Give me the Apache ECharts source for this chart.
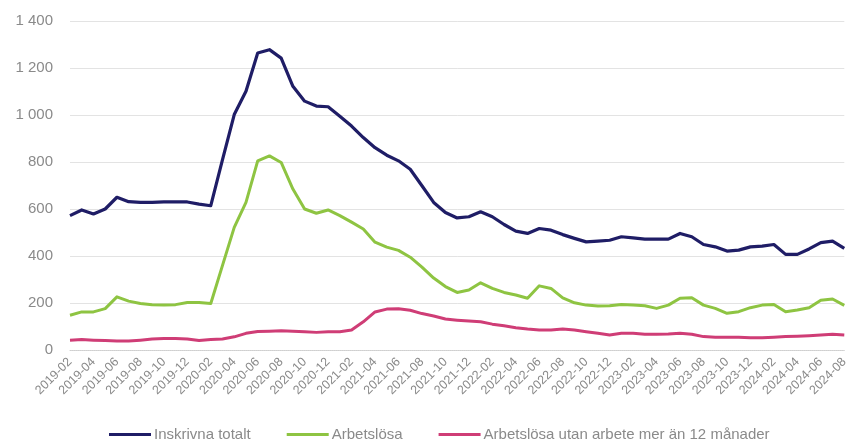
<!DOCTYPE html>
<html>
<head>
<meta charset="utf-8">
<script src="https://cdn.jsdelivr.net/npm/echarts@6/dist/echarts.min.js"></script>
<style>html,body{margin:0;padding:0;background:#fff;}#c{width:851px;height:441px;}</style>
</head>
<body>
<div id="c"></div>
<script>
const months = [];
for (let y = 2019; y <= 2024; y++) {
  for (let m = 1; m <= 12; m++) {
    if (y === 2019 && m < 2) continue;
    if (y === 2024 && m > 8) continue;
    months.push(y + '-' + (m < 10 ? '0' + m : m));
  }
}
const seriesNames = ['Inskrivna totalt', 'Arbetslösa', 'Arbetslösa utan arbete mer än 12 månader'];
const inskrivnaTotalt = [
  572, 596, 579, 600, 650, 631, 628, 628, 630, 630, 630,
  621, 614, 810, 1002, 1101, 1264, 1278, 1242, 1122, 1059, 1038, 1035,
  995, 953, 904, 861, 829, 805, 769, 699, 628, 585, 562, 567,
  588, 567, 534, 506, 496, 517, 510, 491, 475, 460, 463, 467,
  482, 477, 472, 472, 472, 496, 482, 449, 439, 421, 425, 439,
  442, 449, 407, 407, 430, 457, 463, 432
];
const arbetslosa = [
  148, 162, 162, 176, 226, 208, 198, 193, 191, 193, 202,
  202, 198, 360, 522, 628, 805, 826, 798, 685, 600, 582, 596,
  572, 544, 515, 459, 438, 424, 395, 353, 306, 270, 245, 255,
  286, 262, 245, 234, 220, 273, 262, 222, 201, 191, 187, 188,
  194, 191, 188, 177, 191, 220, 222, 191, 177, 156, 163, 180,
  191, 194, 163, 170, 180, 212, 217, 190
];
const langtidsArbetslosa = [
  42, 45, 42, 40, 38, 38, 42, 47, 49, 49, 47,
  40, 45, 47, 56, 71, 79, 80, 82, 80, 78, 75, 78,
  78, 85, 120, 162, 174, 176, 169, 155, 145, 132, 127, 123,
  120, 110, 103, 95, 89, 85, 85, 89, 85, 78, 71, 64,
  71, 71, 67, 67, 68, 71, 67, 57, 54, 54, 54, 52,
  52, 54, 57, 59, 61, 64, 67, 64
];
const colors = ['#1f1d66', '#8ec442', '#cf3d76'];

const chart = echarts.init(document.getElementById('c'), null, {renderer: 'canvas'});
chart.setOption({
  animation: false,
  backgroundColor: '#ffffff',
  color: colors,
  grid: {left: 70, right: 3, top: 21, bottom: 91, containLabel: false},
  legend: {
    top: 422,
    left: 104,
    itemWidth: 42,
    itemHeight: 3,
    itemGap: 36,
    icon: 'rect',
    textStyle: {color: '#8a8a8a', fontSize: 15, fontFamily: 'Liberation Sans, Arial', padding: [0, 0, 0, -2]},
    data: seriesNames
  },
  xAxis: {
    type: 'category',
    boundaryGap: false,
    data: months,
    axisLine: {show: true, lineStyle: {color: '#cfcfcf', type: 'dotted', width: 1}},
    axisTick: {show: false},
    axisLabel: {
      interval: 1,
      rotate: 45,
      color: '#8a8a8a',
      fontSize: 12.5,
      fontFamily: 'Liberation Sans, Arial',
      margin: 10
    },
    splitLine: {show: false}
  },
  yAxis: {
    type: 'value',
    min: 0,
    max: 1400,
    interval: 200,
    axisLine: {show: false},
    axisTick: {show: false},
    axisLabel: {
      color: '#8a8a8a',
      fontSize: 15,
      fontFamily: 'Liberation Sans, Arial',
      margin: 17,
      formatter: function (v) { return String(v).replace(/\B(?=(\d{3})+(?!\d))/g, ' '); }
    },
    splitLine: {show: true, lineStyle: {color: '#e3e3e3', width: 1}}
  },
  series: [
    {name: seriesNames[0], type: 'line', data: inskrivnaTotalt, symbol: 'none', lineStyle: {width: 3.2, color: colors[0], join: 'round'}},
    {name: seriesNames[1], type: 'line', data: arbetslosa, symbol: 'none', lineStyle: {width: 3, color: colors[1], join: 'round'}},
    {name: seriesNames[2], type: 'line', data: langtidsArbetslosa, symbol: 'none', lineStyle: {width: 3, color: colors[2], join: 'round'}}
  ]
});
</script>
</body>
</html>
